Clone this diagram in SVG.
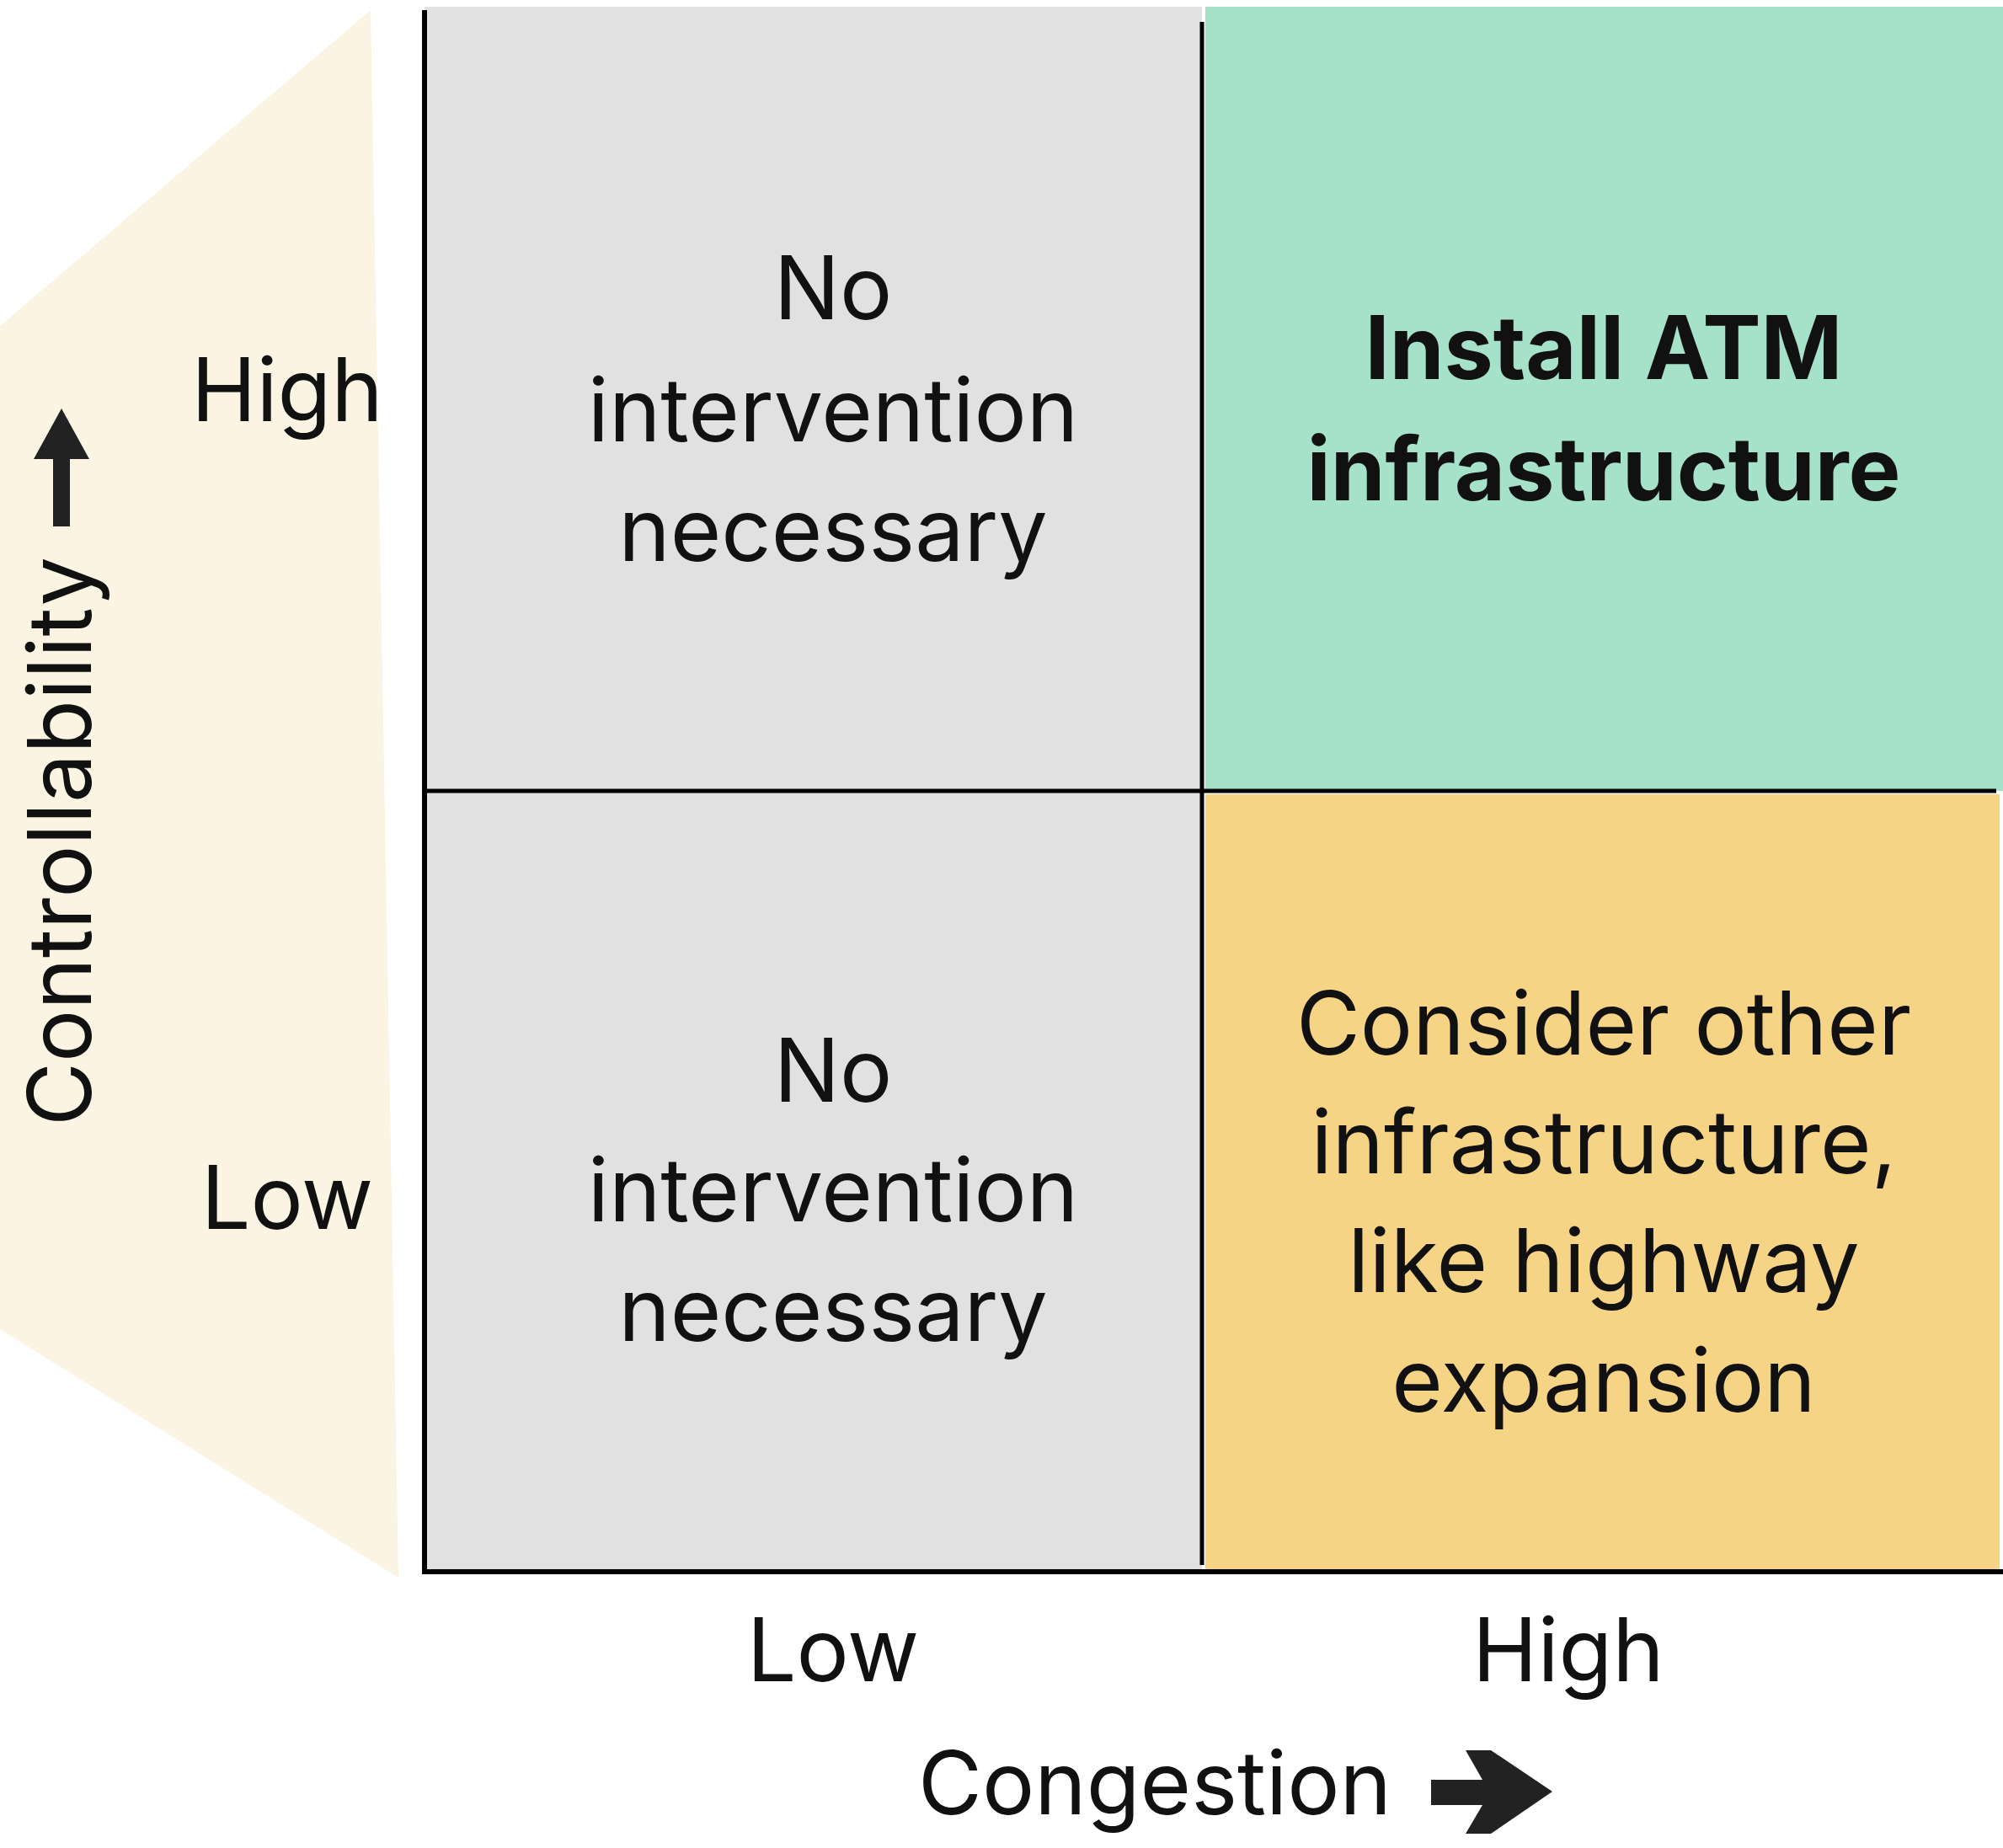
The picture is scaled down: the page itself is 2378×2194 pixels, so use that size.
<svg xmlns="http://www.w3.org/2000/svg" width="2378" height="2194" viewBox="0 0 2378 2194">
<style>
text{font-family:Inter,"Liberation Sans",sans-serif;fill:#111;text-anchor:middle}
.c{font-size:104px}
.b{font-size:104px;font-weight:700}
.ax{stroke:#000;stroke-width:6;fill:none}
</style>
<rect width="2378" height="2194" fill="#fff"/>
<polygon points="440,12 0,387 0,1578 473,1873" fill="#fcf4e2"/>
<g id="cell-tl"><rect x="504" y="8" width="923" height="931" fill="#e1e1e1"/>
<text class="c" x="989" y="379">No</text><text class="c" x="989" y="524">intervention</text><text class="c" x="989" y="666">necessary</text></g>
<g id="cell-bl"><rect x="504" y="939" width="923" height="927" fill="#e1e1e1"/>
<text class="c" x="989" y="1308">No</text><text class="c" x="989" y="1450">intervention</text><text class="c" x="989" y="1592">necessary</text></g>
<g id="cell-tr"><rect x="1431" y="8" width="947" height="931" fill="#a5e2c9"/>
<text class="b" x="1904" y="450">Install ATM</text><text class="b" x="1904" y="594">infrastructure</text></g>
<g id="cell-br"><rect x="1431" y="943" width="943" height="923" fill="#f6d486"/>
<text class="c" x="1904" y="1252">Consider other</text><text class="c" x="1904" y="1393">infrastructure,</text><text class="c" x="1904" y="1534">like highway</text><text class="c" x="1904" y="1676">expansion</text></g>
<g id="connectors">
<path class="ax" d="M504,12 V1866 H2378"/>
<path class="ax" d="M1427,26 V1858 M504,939 H2370" style="stroke-width:5"/>
<path d="M63,625 V545 H40 L73,485 L106,545 H83 V625 Z" fill="#222"/>
<path d="M1699,2113 H1760 L1740,2078 H1770 L1843,2127 L1770,2177 H1740 L1760,2143 H1699 Z" fill="#222"/>
</g>
<g id="labels">
<text class="c" x="341" y="500">High</text>
<text class="c" x="341" y="1459">Low</text>
<text class="c" x="989" y="1996">Low</text>
<text class="c" x="1862" y="1996">High</text>
<text class="c" x="1371" y="2154">Congestion</text>
<text class="c" transform="translate(108,999) rotate(-90)">Controllability</text>
</g>
</svg>
